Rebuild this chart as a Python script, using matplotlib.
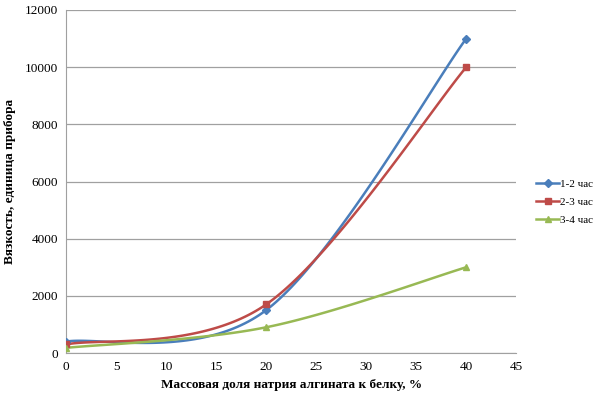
import numpy as np
import matplotlib
matplotlib.use("Agg")
import matplotlib.pyplot as plt

x = [0, 20, 40]
s1 = [400, 1500, 11000]
s2 = [300, 1700, 10000]
s3 = [180, 900, 3000]
names = ["1-2 час", "2-3 час", "3-4 час"]
colors = ["#4A7EBB", "#BE4B48", "#98B954"]
markers = ["D", "s", "^"]
msizes = [4, 5, 5]
yticks = [0, 2000, 4000, 6000, 8000, 10000, 12000]
xticks = [0, 5, 10, 15, 20, 25, 30, 35, 40, 45]

def excel_smooth(xs, ys, n=60):
    P = np.column_stack([xs, ys]).astype(float)
    out = []
    m = len(P)
    for i in range(m - 1):
        p0 = P[i - 1] if i > 0 else P[i]
        p1 = P[i]
        p2 = P[i + 1]
        p3 = P[i + 2] if i + 2 < m else P[i + 1]
        b1 = p1 + (p2 - p0) / 6.0
        b2 = p2 - (p3 - p1) / 6.0
        t = np.linspace(0, 1, n)[:, None]
        seg = (1 - t) ** 3 * p1 + 3 * (1 - t) ** 2 * t * b1 + 3 * (1 - t) * t ** 2 * b2 + t ** 3 * p2
        out.append(seg if i == 0 else seg[1:])
    c = np.vstack(out)
    return c[:, 0], c[:, 1]

plt.rcParams['font.family'] = ['Liberation Serif', 'DejaVu Serif']
fig = plt.figure(figsize=(6.01, 4.0), dpi=100)
ax = fig.add_axes([0.11, 0.1175, 0.749, 0.8575])

for ys, nm, c, mk, ms in zip([s1, s2, s3], names, colors, markers, msizes):
    sx, sy = excel_smooth(x, ys)
    ax.plot(sx, sy, color=c, lw=1.8, zorder=3)
    ax.plot(x, ys, linestyle='none', marker=mk, color=c, ms=ms, zorder=4)
    ax.plot([], [], color=c, lw=1.8, marker=mk, ms=ms, label=nm)

ax.set_xlim(0, 45)
ax.set_ylim(0, 12000)
ax.set_xticks(xticks)
ax.set_yticks(yticks)
ax.grid(axis='y', color='#A0A0A0', lw=0.9)
ax.set_axisbelow(True)
for sp in ['top', 'right']:
    ax.spines[sp].set_visible(False)
ax.spines['left'].set_color('#A0A0A0')
ax.spines['bottom'].set_color('#A0A0A0')
ax.tick_params(length=0, labelsize=9.5, pad=6)
ax.set_xlabel("Массовая доля натрия алгината к белку, %", fontsize=9.5, fontweight='bold', labelpad=4)
ax.set_ylabel("Вязкость, единица прибора", fontsize=9.5, fontweight='bold', labelpad=6)

fig.legend(loc='center left', bbox_to_anchor=(0.876, 0.495), frameon=False,
           fontsize=8, handlelength=2.0, handletextpad=0.15, labelspacing=0.75)
fig.savefig("out.png", dpi=100)
